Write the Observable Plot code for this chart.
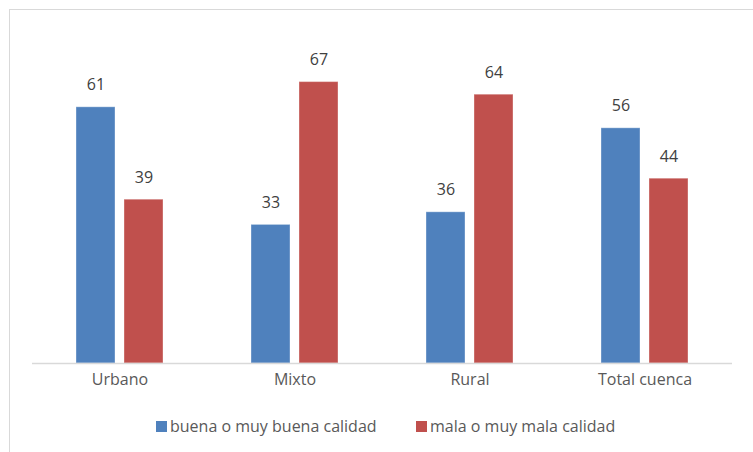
<!DOCTYPE html>
<html>
<head>
<meta charset="utf-8">
<script src="https://cdn.jsdelivr.net/npm/d3@7"></script>
<script src="https://cdn.jsdelivr.net/npm/@observablehq/plot@0.6"></script>
<style>
  html, body { margin: 0; padding: 0; background: #fff; }
  #wrap { position: relative; width: 753px; height: 452px; overflow: hidden; background: #fff; }
  #frame { position: absolute; left: 9px; top: 9px; width: 760px; height: 460px;
           border-left: 1.5px solid #d9d9d9; border-top: 1.5px solid #d9d9d9; box-sizing: border-box; }
  #chart { position: absolute; left: 0; top: 0; }
  #legend { position: absolute; left: 0; top: 398px; width: 753px; height: 54px;
            font-family: "Open Sans", sans-serif; font-size: 16px; color: #595959; }
  .item { position: absolute; top: 17px; display: flex; align-items: center; white-space: nowrap; }
  .sw { width: 11px; height: 11px; margin-right: 3px; }
</style>
</head>
<body>
<div id="wrap">
  <div id="frame"></div>
  <div id="chart"></div>
  <div id="legend"></div>
</div>
<script>
const categories = ["Urbano", "Mixto", "Rural", "Total cuenca"];
const seriesNames = ["buena o muy buena calidad", "mala o muy mala calidad"];
const buena = [61, 33, 36, 56];
const mala = [39, 67, 64, 44];
const colors = ["#4f81bd", "#c0504d"];

const data = [];
categories.forEach((c, i) => {
  data.push({category: c, series: seriesNames[0], value: buena[i]});
  data.push({category: c, series: seriesNames[1], value: mala[i]});
});

const plot = Plot.plot({
  width: 753,
  height: 398,
  marginLeft: 31,
  marginRight: 20,
  marginTop: 69,
  marginBottom: 35,
  style: {fontFamily: "'Open Sans', sans-serif", fontSize: "16px", color: "#595959", background: "transparent"},
  fx: {domain: categories, padding: 0, label: null, tickSize: 0, tickPadding: 10, axis: "bottom"},
  x: {domain: seriesNames, paddingInner: 9 / 49, paddingOuter: 0.8827, axis: null},
  y: {domain: [0, 70], axis: null},
  color: {domain: seriesNames, range: colors},
  marks: [
    Plot.barY(data, {fx: "category", x: "series", y: "value", fill: "series",
                     stroke: "white", strokeOpacity: 0.35, strokeWidth: 1}),
    Plot.text(data, {fx: "category", x: "series", y: "value", text: d => String(d.value),
                     dy: -22, fill: "#404040", fontSize: 16}),
    Plot.ruleY([0], {stroke: "#d9d9d9", strokeWidth: 1.5})
  ]
});
document.getElementById("chart").appendChild(plot);

const legend = document.getElementById("legend");
const lefts = [156, 416];
seriesNames.forEach((s, i) => {
  const item = document.createElement("div");
  item.className = "item";
  item.style.left = lefts[i] + "px";
  const sw = document.createElement("span");
  sw.className = "sw";
  sw.style.background = colors[i];
  const t = document.createElement("span");
  t.textContent = s;
  item.appendChild(sw);
  item.appendChild(t);
  legend.appendChild(item);
});
</script>
</body>
</html>
